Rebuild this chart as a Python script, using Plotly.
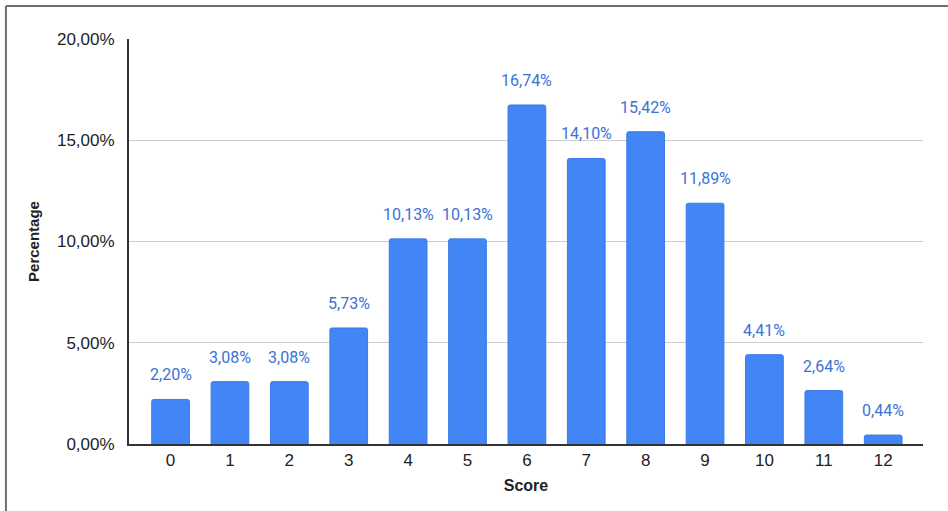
import plotly.graph_objects as go

# Score distribution (share of respondents per score, in percent)
scores = ["0", "1", "2", "3", "4", "5", "6", "7", "8", "9", "10", "11", "12"]
percentages = [2.20, 3.08, 3.08, 5.73, 10.13, 10.13, 16.74, 14.10, 15.42, 11.89, 4.41, 2.64, 0.44]
y_ticks = [0.0, 0.05, 0.10, 0.15, 0.20]

shares = [p / 100 for p in percentages]
x_pos = list(range(len(scores)))

BAR = "#4285F4"
LABEL = "#3b72d6"
AXIS_FONT = "Liberation Sans, Arial, sans-serif"

fig = go.Figure()
fig.add_trace(go.Bar(
    x=x_pos,
    y=shares,
    marker=dict(color=BAR, line=dict(color="#3a7ae8", width=1)),
    width=0.635,
    hoverinfo="skip",
))

# value labels above each bar
for xi, v in zip(x_pos, shares):
    fig.add_annotation(
        x=xi, y=v, xref="x", yref="y",
        text=f"{v * 100:.2f}%".replace(".", ","),
        showarrow=False, yanchor="bottom", yshift=13,
        font=dict(family="Roboto, sans-serif", size=16, color=LABEL),
    )

# outer frame (top and left edges)
fig.add_shape(type="line", xref="paper", yref="paper",
              x0=-0.155, x1=1.04, y0=1.0815, y1=1.0815,
              line=dict(color="#6e6e6e", width=2))
fig.add_shape(type="line", xref="paper", yref="paper",
              x0=-0.155, x1=-0.155, y0=-0.2, y1=1.0815,
              line=dict(color="#6e6e6e", width=2))

fig.update_layout(
    width=948, height=511,
    margin=dict(l=129, r=25, t=39, b=67),
    plot_bgcolor="white", paper_bgcolor="white",
    separators=",.",
    showlegend=False,
    barcornerradius=2,
    xaxis=dict(
        range=[-0.7, 12.67],
        tickmode="array", tickvals=x_pos, ticktext=scores,
        showgrid=False, zeroline=False,
        showline=True, linecolor="#333333", linewidth=2,
        ticks="", tickfont=dict(family=AXIS_FONT, size=17, color="#222222"),
        title=dict(text="<b>Score</b>", standoff=10,
                   font=dict(family=AXIS_FONT, size=16, color="#222222")),
    ),
    yaxis=dict(
        range=[0, 0.20],
        tickmode="array", tickvals=y_ticks, tickformat=".2%",
        showgrid=True, gridcolor="#cccccc", gridwidth=1,
        zeroline=False,
        showline=True, linecolor="#333333", linewidth=2,
        ticks="", ticklabelstandoff=9,
        tickfont=dict(family=AXIS_FONT, size=17, color="#222222"),
        title=dict(text="<b>Percentage</b>", standoff=14,
                   font=dict(family=AXIS_FONT, size=15, color="#222222")),
    ),
)

fig.write_html("out.html")
